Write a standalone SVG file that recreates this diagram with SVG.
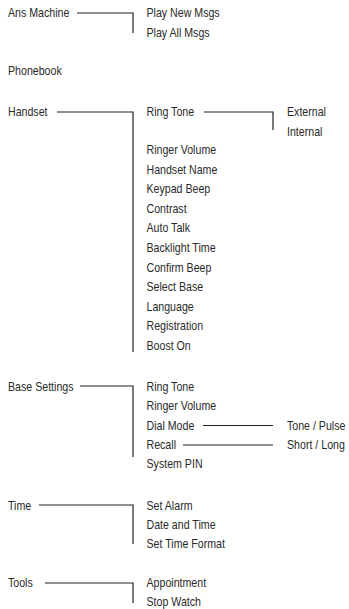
<svg xmlns="http://www.w3.org/2000/svg" width="349" height="609" viewBox="0 0 349 609">
<style>
text{font-family:"Liberation Sans",Arial,sans-serif;font-size:12.5px;fill:#2a2a2a}
.c path{fill:none;stroke:#222;stroke-width:1.2}
</style>
<rect width="349" height="609" fill="#fff"/>
<g class="c" id="connectors">
<path d="M77 13H133V33"/>
<path d="M57 112H133V352"/>
<path d="M204 112H273V130"/>
<path d="M80 386H133V457"/>
<path d="M203 425.5H273"/>
<path d="M183 445H273"/>
<path d="M39 505H133V544"/>
<path d="M45 583H133V603"/>
</g>
<g transform="scale(0.85 1)">
<g id="ans"><text x="9.41" y="17.5">Ans Machine</text></g>
<g id="ans-items"><text x="172.35" y="17.5">Play New Msgs</text><text x="172.35" y="37.5">Play All Msgs</text></g>
<g id="phonebook"><text x="9.41" y="75.5">Phonebook</text></g>
<g id="handset"><text x="9.41" y="116.5">Handset</text></g>
<g id="handset-items">
<text x="172.35" y="116.5">Ring Tone</text>
<text x="172.35" y="154">Ringer Volume</text>
<text x="172.35" y="173.6">Handset Name</text>
<text x="172.35" y="193.2">Keypad Beep</text>
<text x="172.35" y="212.8">Contrast</text>
<text x="172.35" y="232.4">Auto Talk</text>
<text x="172.35" y="252">Backlight Time</text>
<text x="172.35" y="271.6">Confirm Beep</text>
<text x="172.35" y="291.2">Select Base</text>
<text x="172.35" y="310.8">Language</text>
<text x="172.35" y="330.4">Registration</text>
<text x="172.35" y="350">Boost On</text>
</g>
<g id="ringtone-items"><text x="337.65" y="116.5">External</text><text x="337.65" y="136.5">Internal</text></g>
<g id="base"><text x="9.41" y="391.5">Base Settings</text></g>
<g id="base-items">
<text x="172.35" y="391.5">Ring Tone</text>
<text x="172.35" y="410.5">Ringer Volume</text>
<text x="172.35" y="430">Dial Mode</text>
<text x="172.35" y="449.5">Recall</text>
<text x="172.35" y="468.5">System PIN</text>
</g>
<g id="dial-items"><text x="337.65" y="430">Tone / Pulse</text></g>
<g id="recall-items"><text x="337.65" y="449.5">Short / Long</text></g>
<g id="time"><text x="9.41" y="510">Time</text></g>
<g id="time-items">
<text x="172.35" y="510">Set Alarm</text>
<text x="172.35" y="529.5">Date and Time</text>
<text x="172.35" y="548.5">Set Time Format</text>
</g>
<g id="tools"><text x="9.41" y="587.5">Tools</text></g>
<g id="tools-items">
<text x="172.35" y="587.5">Appointment</text>
<text x="172.35" y="606.5">Stop Watch</text>
</g>
</g>
</svg>
